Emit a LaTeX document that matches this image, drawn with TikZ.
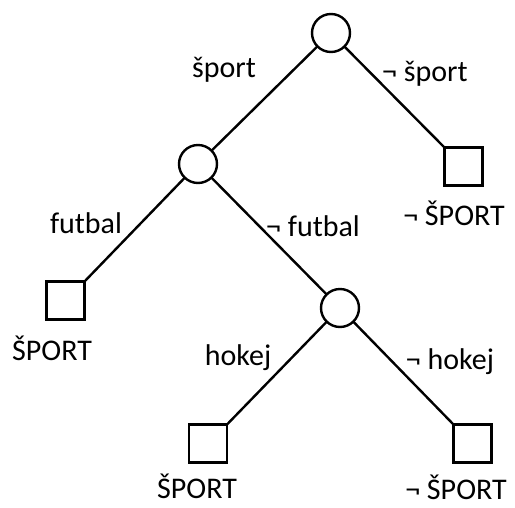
\documentclass[tikz,border=0pt]{standalone}
\usepackage{fontspec}
\setmainfont{Carlito}
\begin{document}
\begin{tikzpicture}[x=1pt,y=-1pt,
  chance/.style={circle,draw,line width=2.4pt,minimum size=38pt,inner sep=0pt,outer sep=0pt},
  leaf/.style={rectangle,draw,line width=2.4pt,minimum size=38pt,inner sep=0pt,outer sep=0pt},
  lbl/.style={inner sep=0pt,font=\fontsize{30}{35}\selectfont},
  edge/.style={line width=2.4pt}]
\useasboundingbox (0,0) rectangle (515,507);
\node[chance] (c1) at (331,33) {};
\node[chance] (c2) at (198,164) {};
\node[chance] (c3) at (340,308) {};
\node[leaf] (s1) at (463.5,166.5) {};
\node[leaf] (s2) at (65.5,300.5) {};
\node[leaf] (s3) at (208,443.5) {};
\node[leaf] (s4) at (472.5,443.5) {};
\draw[edge] (c1) -- (c2);
\draw[edge] (c1) -- (s1.north west);
\draw[edge] (c2) -- (s2.north east);
\draw[edge] (c2) -- (c3);
\draw[edge] (c3) -- (s3.north east);
\draw[edge] (c3) -- (s4.north west);
\node[lbl] (l1) at (224,70) {šport};
\node[lbl] (l2) at (425,74) {¬ šport};
\node[lbl] (l3) at (454,213) {¬ ŠPORT};
\node[lbl] (l4) at (86,223) {futbal};
\node[lbl] (l5) at (313,226) {¬ futbal};
\node[lbl] (l6) at (52,348) {ŠPORT};
\node[lbl] (l7) at (238,358) {hokej};
\node[lbl] (l8) at (450,362) {¬ hokej};
\node[lbl] (l9) at (197,486) {ŠPORT};
\node[lbl] (l10) at (456,487) {¬ ŠPORT};
\end{tikzpicture}
\end{document}
